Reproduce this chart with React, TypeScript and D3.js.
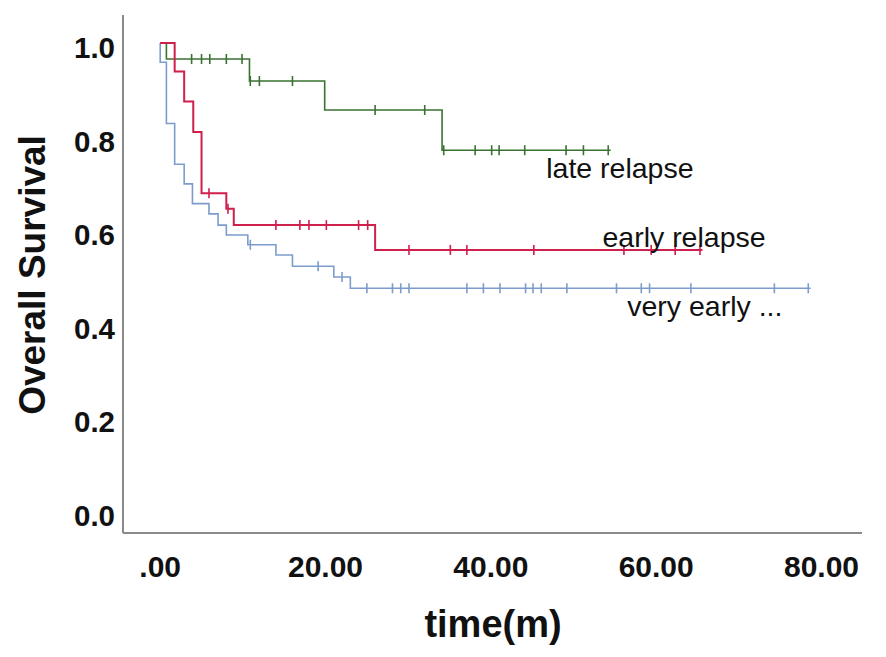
import * as d3 from "d3";

const WIDTH = 886;
const HEIGHT = 657;

// plot frame (axis lines) in pixels
const FRAME = { left: 123, right: 862, top: 15, bottom: 533 };

const X_DOMAIN = [-4.5, 84.9];
const Y_DOMAIN = [-0.047, 1.06];

const X_TICKS = [0, 20, 40, 60, 80];
const X_TICK_LABELS = [".00", "20.00", "40.00", "60.00", "80.00"];
const Y_TICKS = [0, 0.2, 0.4, 0.6, 0.8, 1.0];
const Y_TICK_LABELS = ["0.0", "0.2", "0.4", "0.6", "0.8", "1.0"];

// late relapse
const LATE_TIMES = [0, 0.75, 10.8, 19.9, 34.1, 54.5];
const LATE_SURV = [1, 0.966, 0.919, 0.857, 0.771, 0.771];
const LATE_CENSOR = [3.8, 5.0, 6.0, 8.0, 9.9, 10.9, 12.0, 16.0, 26.0, 32.0, 34.3, 38.1, 40.1, 41.0, 44.1, 49.1, 51.2, 54.2];

// early relapse
const EARLY_TIMES = [0, 1.75, 2.9, 4.0, 5.0, 8.0, 8.9, 26.0, 65.6];
const EARLY_SURV = [1, 0.939, 0.875, 0.81, 0.679, 0.646, 0.611, 0.558, 0.558];
const EARLY_CENSOR = [5.9, 8.2, 14.0, 16.9, 18.0, 20.1, 24.0, 25.1, 30.1, 35.1, 37.1, 45.2, 56.1, 59.4, 62.3, 65.3];

// very early relapse
const VERY_TIMES = [0, 0, 0.75, 1.75, 2.9, 3.9, 5.9, 7.0, 8.0, 10.6, 14.0, 16.0, 21.0, 23.0, 78.7];
const VERY_SURV = [1, 0.959, 0.828, 0.741, 0.699, 0.657, 0.635, 0.611, 0.59, 0.569, 0.547, 0.523, 0.5, 0.476, 0.476];
const VERY_CENSOR = [10.9, 19.1, 22.0, 25.0, 28.1, 29.1, 30.1, 37.1, 39.1, 41.1, 44.2, 45.1, 46.1, 49.2, 55.2, 58.2, 59.2, 64.2, 74.3, 78.4];

const GROUPS = [
  { name: "very early ...", times: VERY_TIMES, surv: VERY_SURV, censor: VERY_CENSOR, color: "#7b9ccc", width: 1.6, label: [56.5, 0.417] },
  { name: "late relapse", times: LATE_TIMES, surv: LATE_SURV, censor: LATE_CENSOR, color: "#3a7232", width: 1.6, label: [46.7, 0.712] },
  { name: "early relapse", times: EARLY_TIMES, surv: EARLY_SURV, censor: EARLY_CENSOR, color: "#cf1f4c", width: 2, label: [53.5, 0.564] },
];

const FONT = "'Liberation Sans', Arial, sans-serif";
const CENSOR_HALF = 5;

export default function App() {
  const xScale = d3.scaleLinear().domain(X_DOMAIN).range([FRAME.left, FRAME.right]);
  const yScale = d3.scaleLinear().domain(Y_DOMAIN).range([FRAME.bottom, FRAME.top]);

  const lineGen = d3
    .line<[number, number]>()
    .x((d) => xScale(d[0]))
    .y((d) => yScale(d[1]))
    .curve(d3.curveStepAfter);

  // survival value at time t from the step function
  const survAt = (times: number[], surv: number[], t: number) => {
    const i = d3.bisectRight(times, t) - 1;
    return surv[Math.max(0, i)];
  };

  return (
    <svg width={WIDTH} height={HEIGHT} style={{ position: "absolute", left: 0, top: 0, background: "white" }}>
      {/* curves */}
      {GROUPS.map((g) => {
        const pts = g.times.map((t, i) => [t, g.surv[i]] as [number, number]);
        return (
          <g key={g.name}>
            <path d={lineGen(pts) ?? ""} fill="none" stroke={g.color} strokeWidth={g.width} />
            {g.censor.map((t, i) => {
              const cx = xScale(t);
              const cy = yScale(survAt(g.times, g.surv, t));
              return (
                <line key={i} x1={cx} x2={cx} y1={cy - CENSOR_HALF} y2={cy + CENSOR_HALF} stroke={g.color} strokeWidth={1.6} />
              );
            })}
          </g>
        );
      })}

      {/* curve labels */}
      {GROUPS.map((g) => (
        <text key={g.name} x={xScale(g.label[0])} y={yScale(g.label[1])} fontFamily={FONT} fontSize={28.5} fill="#111">
          {g.name}
        </text>
      ))}

      {/* axes */}
      <line x1={FRAME.left} x2={FRAME.left} y1={FRAME.top} y2={FRAME.bottom} stroke="#8a8a8a" strokeWidth={2} />
      <line x1={FRAME.left} x2={FRAME.right} y1={FRAME.bottom} y2={FRAME.bottom} stroke="#8a8a8a" strokeWidth={2} />

      {Y_TICKS.map((v, i) => (
        <text key={v} x={115} y={yScale(v) + 15} textAnchor="end" fontFamily={FONT} fontWeight="bold" fontSize={29.5} fill="#111">
          {Y_TICK_LABELS[i]}
        </text>
      ))}
      {X_TICKS.map((v, i) => (
        <text key={v} x={xScale(v)} y={577} textAnchor="middle" fontFamily={FONT} fontWeight="bold" fontSize={30} fill="#111">
          {X_TICK_LABELS[i]}
        </text>
      ))}

      <text x={493} y={637} textAnchor="middle" fontFamily={FONT} fontWeight="bold" fontSize={38} fill="#111">
        time(m)
      </text>
      <text
        transform={`translate(45, 275) rotate(-90)`}
        textAnchor="middle"
        fontFamily={FONT}
        fontWeight="bold"
        fontSize={37}
        fill="#111"
      >
        Overall Survival
      </text>
    </svg>
  );
}
